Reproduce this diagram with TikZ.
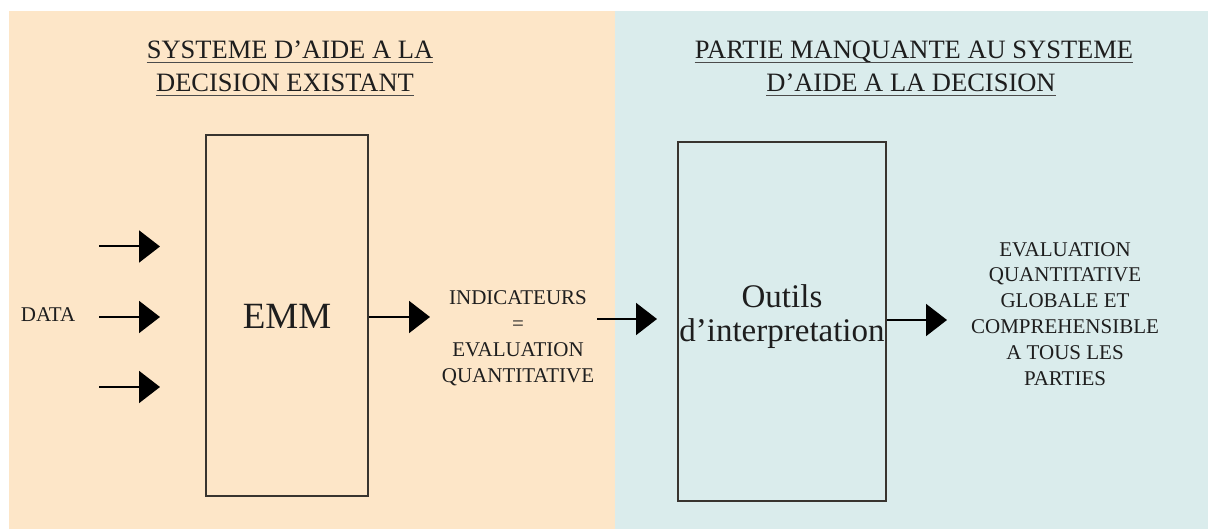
\documentclass[tikz,border=0pt]{standalone}
\usepackage{fontspec}
\setmainfont{Liberation Serif}
\usetikzlibrary{arrows.meta}
\definecolor{peach}{HTML}{FDE6C8}
\definecolor{paleblue}{HTML}{DAECEC}
\definecolor{boxline}{HTML}{38342F}
\definecolor{ink}{HTML}{1E1E1E}
\begin{document}
\begin{tikzpicture}[x=1pt,y=-1pt,
  title/.style={inner sep=0pt,text=ink,font=\fontsize{26.5}{33}\selectfont},
  uline/.style={draw=ink!80,line width=1.3pt},
  blk/.style={draw=boxline,line width=1.8pt,inner sep=0pt},
  bigtxt/.style={inner sep=0pt,text=ink,align=center,font=\fontsize{33}{35}\selectfont},
  lbl/.style={inner sep=0pt,text=ink,align=center,font=\fontsize{21}{25.8}\selectfont},
  arr/.style={line width=2pt,draw=black,-{Triangle[length=21pt,width=32pt]}}
]
\useasboundingbox (0,0) rectangle (1208,529);
\fill[peach] (9,11) rectangle (615,529);
\fill[paleblue] (615,11) rectangle (1208,529);

% titles
\node[title,anchor=base] (t1a) at (290,59) {SYSTEME D’AIDE A LA};
\node[title,anchor=base] (t1b) at (285,92) {DECISION EXISTANT};
\node[title,anchor=base] (t2a) at (914,59) {PARTIE MANQUANTE AU SYSTEME\ };
\node[title,anchor=base] (t2b) at (911,92) {D’AIDE A LA DECISION};
\foreach \n in {t1a,t1b,t2a,t2b}
  \draw[uline] ([yshift=-3.5pt]\n.base west) -- ([yshift=-3.5pt]\n.base east);

% boxes
\node[blk,minimum width=162pt,minimum height=361pt] (emm) at (287,315.5) {};
\node[bigtxt,anchor=base,font=\fontsize{37}{37}\selectfont] (emmtxt) at (287,329) {EMM};
\node[blk,minimum width=208pt,minimum height=359pt] (outils) at (782,321.5) {};
\node[bigtxt,anchor=base] (outilstxt) at (782,342) {Outils\\d’interpretation};

% labels
\node[lbl] (data) at (48,315) {DATA};
\node[lbl,anchor=base] (ind) at (518,382) {INDICATEURS\\=\\EVALUATION\\QUANTITATIVE};
\node[lbl,anchor=base] (res) at (1065,385) {EVALUATION\\QUANTITATIVE\\GLOBALE ET\\COMPREHENSIBLE\\A TOUS LES\\PARTIES};

% input arrows
\coordinate (in1s) at (99,246.5); \coordinate (in1e) at (160,246.5);
\coordinate (in2s) at (99,317);   \coordinate (in2e) at (160,317);
\coordinate (in3s) at (99,387);   \coordinate (in3e) at (160,387);
\draw[arr] (in1s) -- (in1e);
\draw[arr] (in2s) -- (in2e);
\draw[arr] (in3s) -- (in3e);

% other arrows
\coordinate (emmout) at (430,317);
\draw[arr] (emm.east |- emmout) -- (emmout);
\coordinate (inds) at (597,319); \coordinate (inde) at (657,319);
\draw[arr] (inds) -- (inde);
\coordinate (outout) at (947,320);
\draw[arr] (outils.east |- outout) -- (outout);
\end{tikzpicture}
\end{document}
